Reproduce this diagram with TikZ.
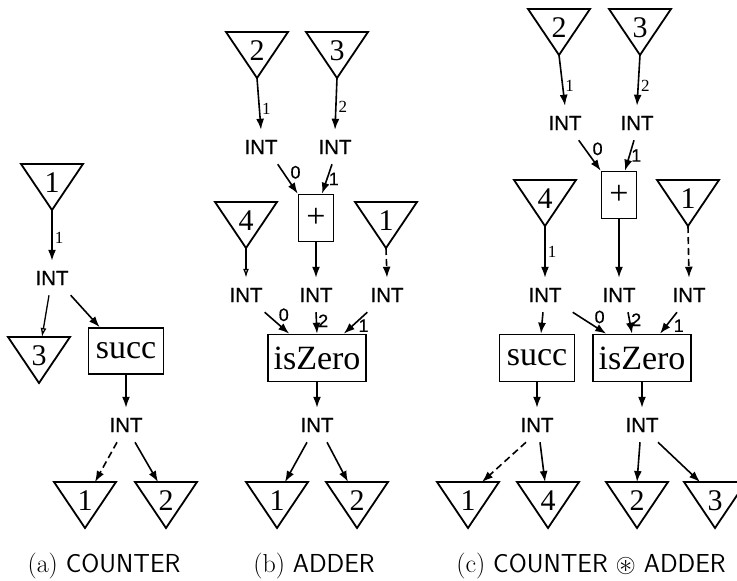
\documentclass[tikz,border=0pt]{standalone}
\usepackage{amssymb}
\usepackage{fontspec}
\newfontfamily\lsans[FakeBold=0.6]{Liberation Sans}
\newfontfamily\lserif{Liberation Serif}
\usetikzlibrary{arrows.meta}
\tikzset{
  trishape/.style={line width=1.8pt, line join=miter},
  digit/.style={font=\lserif\fontsize{30}{31}\selectfont, inner sep=0pt},
  inttext/.style={font=\lsans\fontsize{20.5}{22}\selectfont, inner xsep=2pt, inner ysep=10pt},
  fnbox/.style={draw, line width=1.6pt, font=\lserif\fontsize{34}{36}\selectfont, inner sep=0pt},
  arr/.style={line width=1.6pt, -{Latex[length=11pt,width=8pt]}},
  harr/.style={line width=1.3pt, -{Latex[open,length=9pt,width=6pt]}},
  darr/.style={arr, dash pattern=on 7pt off 4pt},
  plab/.style={font=\lsans\fontsize{18}{19}\selectfont, inner sep=1pt},
  elab/.style={font=\lserif\fontsize{17}{18}\selectfont, inner sep=2pt},
  captext/.style={font=\fontsize{26}{28}\selectfont, inner sep=0pt}
}
\newcommand\tri[4]{%
  \draw[trishape] (#2-31,#3) -- (#2+31,#3) -- (#2,#3+46) -- cycle;
  \node[digit] (#1) at (#2,#3+19) {#4};
  \coordinate (#1-t) at (#2,#3);
  \coordinate (#1-a) at (#2,#3+46);
}
\begin{document}
\begin{tikzpicture}[x=1pt,y=-1pt]
\useasboundingbox (0,0) rectangle (737,581);
% ---------- (a) COUNTER ----------
\tri{a1}{52}{164}{1}
\node[inttext] (ai1) at (52,278) {INT};
\draw[arr] (a1-a) -- node[elab,right,pos=0.55]{1} (ai1.north);
\tri{a3}{39}{337}{3}
\draw[harr] ([xshift=-3pt]ai1.south) -- ([xshift=3pt]a3-t);
\node[fnbox, minimum width=75pt, minimum height=46pt] (as) at (126,351) {succ};
\draw[arr] (ai1.south east) -- ([xshift=12pt]as.north west);
\node[inttext] (ai2) at (126,425) {INT};
\draw[arr] (as.south) -- (ai2.north);
\tri{a1b}{85}{482}{1}
\tri{a2b}{166}{482}{2}
\draw[darr] ([xshift=-9pt]ai2.south) -- ([xshift=10pt]a1b-t);
\draw[arr] ([xshift=9pt]ai2.south) -- ([xshift=-8pt]a2b-t);
% ---------- (b) ADDER ----------
\tri{b2}{257}{32}{2}
\tri{b3}{337}{32}{3}
\node[inttext] (bi1) at (261,147) {INT};
\node[inttext] (bi2) at (335,147) {INT};
\draw[arr] (b2-a) -- node[elab,right,pos=0.6]{1} (bi1.north);
\draw[arr] (b3-a) -- node[elab,right,pos=0.55]{2} (bi2.north);
\node[fnbox, minimum width=35pt, minimum height=47pt] (bp) at (316,218) {+};
\draw[arr] ([xshift=-2pt]bi1.south east) -- node[plab,pos=0.55,anchor=south west]{0} (bp.north west);
\draw[arr] ([xshift=-3pt]bi2.south) -- node[plab,pos=0.5,anchor=west]{1} ([xshift=6pt]bp.north);
\tri{b4}{246}{202}{4}
\tri{b1}{386}{202}{1}
\node[inttext] (bi3) at (246,295) {INT};
\node[inttext] (bi4) at (316,295) {INT};
\node[inttext] (bi5) at (387,295) {INT};
\draw[harr] (b4-a) -- (bi3.north);
\draw[arr] (bp.south) -- (bi4.north);
\draw[darr] (b1-a) -- (bi5.north);
\node[fnbox, minimum width=98pt, minimum height=47pt] (bz) at (317,358) {isZero};
\draw[arr] (bi3.south east) -- node[plab,pos=0.5,anchor=south west]{0} ([xshift=22pt]bz.north west);
\draw[arr] (bi4.south) -- node[plab,pos=0.4,anchor=west]{2} (bz.north);
\draw[arr] ([xshift=-1pt]bi5.south west) -- node[plab,at end,anchor=south west,xshift=13pt]{1} ([xshift=-23pt]bz.north east);
\node[inttext] (bi6) at (317,425) {INT};
\draw[arr] (bz.south) -- (bi6.north);
\tri{b1b}{277}{482}{1}
\tri{b2b}{357}{482}{2}
\draw[arr] ([xshift=-10pt]bi6.south) -- ([xshift=8pt]b1b-t);
\draw[arr] ([xshift=10pt]bi6.south) -- ([xshift=-9pt]b2b-t);
% ---------- (c) COUNTER * ADDER ----------
\tri{c2}{559}{9}{2}
\tri{c3}{640}{9}{3}
\node[inttext] (ci1) at (565,123) {INT};
\node[inttext] (ci2) at (637,123) {INT};
\draw[arr] (c2-a) -- node[elab,right,pos=0.6]{1} (ci1.north);
\draw[arr] (c3-a) -- node[elab,right,pos=0.6]{2} (ci2.north);
\node[fnbox, minimum width=35pt, minimum height=47pt] (cp) at (619,195) {+};
\draw[arr] ([xshift=-5pt]ci1.south east) -- node[plab,pos=0.55,anchor=south west]{0} (cp.north west);
\draw[arr] ([xshift=-3pt]ci2.south) -- node[plab,pos=0.5,anchor=west]{1} ([xshift=6pt]cp.north);
\tri{c4}{545}{180}{4}
\tri{c1}{688}{180}{1}
\node[inttext] (ci3) at (545,295) {INT};
\node[inttext] (ci4) at (619,295) {INT};
\node[inttext] (ci5) at (689,295) {INT};
\draw[arr] (c4-a) -- node[elab,right,pos=0.5]{1} (ci3.north);
\draw[arr] (cp.south) -- (ci4.north);
\draw[darr] (c1-a) -- (ci5.north);
\node[fnbox, minimum width=75pt, minimum height=47pt] (cs) at (537,358) {succ};
\node[fnbox, minimum width=98pt, minimum height=47pt] (cz) at (642,358) {isZero};
\draw[arr] ([xshift=-2pt]ci3.south) -- ([xshift=4pt]cs.north);
\draw[arr] ([xshift=9pt]ci3.south east) -- node[plab,pos=0.6,anchor=south west]{0} ([xshift=14pt]cz.north west);
\draw[arr] ([xshift=9pt]ci4.south) -- node[plab,pos=0.35,anchor=west]{2} ([xshift=-10pt]cz.north);
\draw[arr] ([xshift=-12pt]ci5.south) -- node[plab,at end,anchor=south west,xshift=12pt]{1} ([xshift=18pt]cz.north);
\node[inttext] (ci6) at (537,425) {INT};
\node[inttext] (ci7) at (642,425) {INT};
\draw[arr] (cs.south) -- (ci6.north);
\draw[arr] (cz.south) -- (ci7.north);
\tri{c1b}{468}{482}{1}
\tri{c4b}{548}{482}{4}
\tri{c2b}{637}{482}{2}
\tri{c3b}{715}{482}{3}
\draw[darr] ([xshift=-11pt]ci6.south) -- ([xshift=14pt]c1b-t);
\draw[arr] ([xshift=3pt]ci6.south) -- ([xshift=-3pt]c4b-t);
\draw[arr] ([xshift=-2pt]ci7.south) -- (c2b-t);
\draw[arr] ([xshift=16pt]ci7.south) -- ([xshift=-15pt]c3b-t);
% ---------- captions ----------
\node[captext, anchor=base] (capa) at (104,572) {(a) \textsf{COUNTER}};
\node[captext, anchor=base] (capb) at (314,572) {(b) \textsf{ADDER}};
\node[captext, anchor=base] (capc) at (591,572) {(c) \textsf{COUNTER} $\circledast$ \textsf{ADDER}};
\end{tikzpicture}
\end{document}
